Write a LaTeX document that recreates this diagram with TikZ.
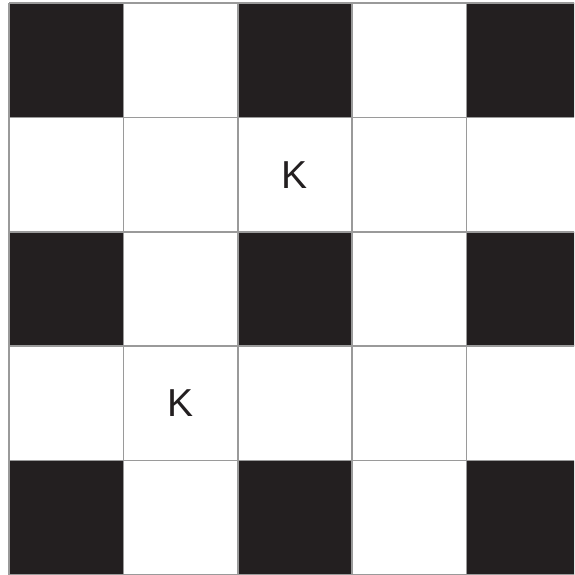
\documentclass[tikz,border=0pt]{standalone}
\usepackage{fontspec}
\setmainfont{Liberation Sans}
\usetikzlibrary{positioning}

\definecolor{boardblack}{HTML}{231F20}
\definecolor{boardline}{HTML}{9A9A9A}

\begin{document}
\begin{tikzpicture}[
  x=1pt, y=-1pt,
  darkcell/.style={fill=boardblack},
  gridline/.style={draw=boardline, line width=1.6pt},
  piece/.style={font=\fontsize{39}{39}\selectfont, text=boardblack, inner sep=0pt},
]
% page size of the picture
\useasboundingbox (0,0) rectangle (574,575);
\clip (0,0) rectangle (574,575);
\fill[white] (0,0) rectangle (574,575);

% dark squares only where row and column are both even (cell 114.4, board starts at 9,3)
\foreach \r in {0,2,4}
  \foreach \c in {0,2,4}
    \fill[darkcell] (9+114.4*\c,3+114.4*\r) rectangle ++(114.4,114.4);

% grid lines
\foreach \k in {0,...,5}{
  \draw[gridline] (9+114.4*\k,3) -- (9+114.4*\k,575);
  \draw[gridline] (9,3+114.4*\k) -- (580,3+114.4*\k);
}

% the two kings
\node[piece] (kingA) at (9+114.4*2.5,3+114.4*1.5) {K};
\node[piece] (kingB) at (9+114.4*1.5,3+114.4*3.5) {K};
\end{tikzpicture}
\end{document}
